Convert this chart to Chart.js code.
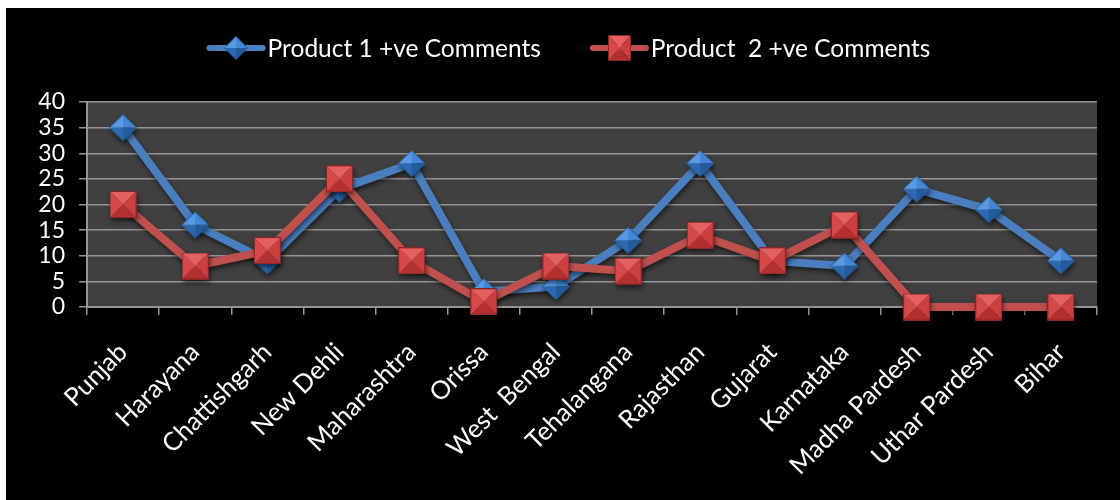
<!DOCTYPE html>
<html>
<head>
<meta charset="utf-8">
<script src="https://cdn.jsdelivr.net/npm/chart.js@4.4.1/dist/chart.umd.min.js"></script>
<style>
  html, body { margin: 0; padding: 0; background: #ffffff; }
  #frame { position: absolute; left: 6px; top: 8px; width: 1114px; height: 492px; background: #000000; }
  canvas { display: block; }
</style>
</head>
<body>
<div id="frame"><canvas id="chart" width="1114" height="492"></canvas></div>
<script>
// ---- data ----
const states = ['Punjab', 'Harayana', 'Chattishgarh', 'New Dehli', 'Maharashtra', 'Orissa', 'West  Bengal',
                'Tehalangana', 'Rajasthan', 'Gujarat', 'Karnataka', 'Madha Pardesh', 'Uthar Pardesh', 'Bihar'];
const product1Label = 'Product 1 +ve Comments';
const product2Label = 'Product  2 +ve Comments';
const product1 = [35, 16, 9, 23, 28, 3, 4, 13, 28, 9, 8, 23, 19, 9];
const product2 = [20, 8, 11, 25, 9, 1, 8, 7, 14, 9, 16, 0, 0, 0];
const yTicks = [0, 5, 10, 15, 20, 25, 30, 35, 40];

// ---- style ----
const FONT = 'Lato, "Open Sans", sans-serif';
const BLUE = '#4a7ebf';
const RED = '#c0504d';
const GRID = '#959595';

// Bevelled marker images: four facets meeting at the centre.
function facetMarker(w, h, shape, shades, edge) {
  const c = document.createElement('canvas');
  c.width = w; c.height = h;
  const g = c.getContext('2d');
  const cx = w / 2, cy = h / 2;
  const pts = shape === 'diamond'
    ? [[cx, 0.5], [w - 0.5, cy], [cx, h - 0.5], [0.5, cy]]
    : [[0.5, 0.5], [w - 0.5, 0.5], [w - 0.5, h - 0.5], [0.5, h - 0.5]];
  for (let i = 0; i < 4; i++) {
    const a = pts[i], b = pts[(i + 1) % 4];
    g.beginPath();
    g.moveTo(a[0], a[1]); g.lineTo(b[0], b[1]); g.lineTo(cx, cy); g.closePath();
    g.fillStyle = shades[i];
    g.fill();
  }
  g.beginPath();
  g.moveTo(pts[0][0], pts[0][1]);
  for (let i = 1; i < 4; i++) g.lineTo(pts[i][0], pts[i][1]);
  g.closePath();
  g.strokeStyle = edge; g.lineWidth = 1;
  g.stroke();
  return c;
}
// diamond facets: top-right, bottom-right, bottom-left, top-left
const diamondBig = facetMarker(28, 27, 'diamond', ['#4387d6', '#235b9c', '#2d69b1', '#5a9ae3'], '#2a5f9e');
const diamondKey = facetMarker(24, 24, 'diamond', ['#4387d6', '#235b9c', '#2d69b1', '#5a9ae3'], '#2a5f9e');
// square facets: top, right, bottom, left
const squareBig = facetMarker(27, 27, 'square', ['#e56060', '#cc3f3f', '#b33030', '#d74848'], '#8e2525');
const squareKey = facetMarker(23, 26, 'square', ['#e56060', '#cc3f3f', '#b33030', '#d74848'], '#8e2525');

// Dark plot area behind the grid.
const plotFill = {
  id: 'plotFill',
  beforeDraw(chart) {
    const { ctx, chartArea: a } = chart;
    ctx.save();
    ctx.fillStyle = '#404040';
    ctx.fillRect(a.left, a.top, a.right - a.left, a.bottom - a.top);
    ctx.restore();
  }
};

// Soft drop shadow under each series line and its markers.
const seriesShadow = {
  id: 'seriesShadow',
  beforeDatasetDraw(chart) {
    const ctx = chart.ctx;
    ctx.save();
    ctx.shadowColor = 'rgba(0,0,0,0.55)';
    ctx.shadowBlur = 5;
    ctx.shadowOffsetX = 1;
    ctx.shadowOffsetY = 3;
  },
  afterDatasetDraw(chart) {
    chart.ctx.restore();
  }
};

// Key across the top: a short line with its marker, then the series name.
const seriesKey = {
  id: 'seriesKey',
  afterDraw(chart, args, opts) {
    const ctx = chart.ctx;
    const sets = chart.data.datasets;
    ctx.save();
    ctx.font = opts.fontSize + 'px ' + FONT;
    const widths = sets.map(d => ctx.measureText(d.label).width);
    const total = widths.reduce((s, w) => s + opts.lineLen + opts.textGap + w, 0) + opts.itemGap * (sets.length - 1);
    let x = opts.centerX - total / 2;
    const y = opts.y;
    sets.forEach((d, i) => {
      ctx.beginPath();
      ctx.moveTo(x, y); ctx.lineTo(x + opts.lineLen, y);
      ctx.strokeStyle = d.borderColor; ctx.lineWidth = 6; ctx.lineCap = 'round';
      ctx.stroke();
      const img = d.keyMarker;
      ctx.drawImage(img, Math.round(x + opts.lineLen / 2 - img.width / 2), Math.round(y - img.height / 2));
      ctx.fillStyle = '#ffffff';
      ctx.textBaseline = 'middle';
      ctx.textAlign = 'left';
      ctx.fillText(d.label, x + opts.lineLen + opts.textGap, y + 1);
      x += opts.lineLen + opts.textGap + widths[i] + opts.itemGap;
    });
    ctx.restore();
  }
};

new Chart(document.getElementById('chart'), {
  type: 'line',
  data: {
    labels: states,
    datasets: [
      {
        label: product1Label, data: product1, order: 1,
        borderColor: BLUE, borderWidth: 8, borderJoinStyle: 'round', tension: 0,
        pointStyle: diamondBig, keyMarker: diamondKey, pointRadius: 14
      },
      {
        label: product2Label, data: product2, order: 0,
        borderColor: RED, borderWidth: 8, borderJoinStyle: 'round', tension: 0,
        pointStyle: squareBig, keyMarker: squareKey, pointRadius: 14
      }
    ]
  },
  options: {
    responsive: false,
    animation: false,
    clip: false,
    layout: { padding: { top: 94, right: 23, left: 0, bottom: 0 } },
    plugins: {
      legend: { display: false },
      tooltip: { enabled: false },
      seriesKey: { centerX: 564, y: 40, fontSize: 24.5, lineLen: 53, textGap: 5, itemGap: 52 }
    },
    scales: {
      x: {
        type: 'category',
        offset: true,
        grid: { offset: true, drawOnChartArea: false, color: GRID, lineWidth: 1.5, tickLength: 8 },
        border: { color: GRID, width: 2 },
        ticks: {
          color: '#ffffff', font: { family: FONT, size: 25.5 },
          minRotation: 45, maxRotation: 45, autoSkip: false, padding: 22
        },
        afterFit(scale) { scale.height = 193; }
      },
      y: {
        min: 0, max: 40,
        afterBuildTicks(scale) { scale.ticks = yTicks.map(v => ({ value: v })); },
        grid: { color: GRID, lineWidth: 1.5, tickLength: 8 },
        border: { color: GRID, width: 2 },
        ticks: { color: '#ffffff', font: { family: FONT, size: 23 }, padding: 14, autoSkip: false },
        afterFit(scale) { scale.width = 81; }
      }
    }
  },
  plugins: [plotFill, seriesShadow, seriesKey]
});
</script>
</body>
</html>
